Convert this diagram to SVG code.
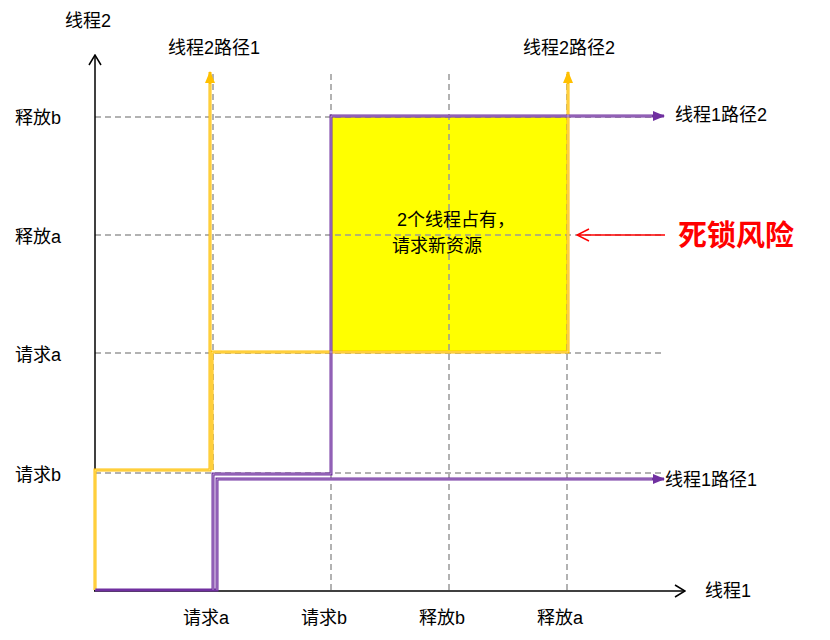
<svg xmlns="http://www.w3.org/2000/svg" width="830" height="640" viewBox="0 0 830 640">
<style>
text{font-family:"Liberation Sans","Noto Sans CJK SC",sans-serif;font-size:18px;fill:#000}
.g{stroke:#999;stroke-width:1.5;stroke-dasharray:6 4;fill:none}
.o{stroke:#FFC000;stroke-width:3;fill:none}
.p{stroke:#7030A0;stroke-width:3;fill:none}
.w{stroke:#fff;stroke-width:0.8;fill:none;opacity:0.6}
</style>
<defs>
<marker id="ao" markerWidth="12" markerHeight="12" refX="11" refY="5" orient="auto" markerUnits="userSpaceOnUse" viewBox="0 0 12 10"><path d="M0,0 L12,5 L0,10Z" fill="#FFC000"/></marker>
<marker id="ap" markerWidth="12" markerHeight="10" refX="11" refY="5" orient="auto" markerUnits="userSpaceOnUse" viewBox="0 0 12 10"><path d="M0,0 L12,5 L0,10Z" fill="#7030A0"/></marker>
<marker id="ak" markerWidth="12" markerHeight="14" refX="11" refY="7" orient="auto" markerUnits="userSpaceOnUse" viewBox="0 0 12 14"><path d="M1,1 L11,7 L1,13" fill="none" stroke="#000" stroke-width="1.5"/></marker>
<marker id="ar" markerWidth="14" markerHeight="14" refX="13" refY="7" orient="auto" markerUnits="userSpaceOnUse" viewBox="0 0 14 14"><path d="M1,1 L13,7 L1,13" fill="none" stroke="#f00" stroke-width="1.5"/></marker>
</defs>
<rect id="zone" x="331" y="116" width="236" height="236" fill="#FFFF00"/>
<g id="grid">
<path class="g" d="M213,590V70M331,590V70M449,590V70M567,590V70M95,473H665M95,353H665M95,235H665M95,117H665"/>
</g>
<g id="axes">
<path d="M95,591V55" stroke="#000" stroke-width="1.5" fill="none" marker-end="url(#ak)"/>
<path d="M94,591H685" stroke="#000" stroke-width="1.5" fill="none" marker-end="url(#ak)"/>
</g>
<g id="connectors">
<path class="o" d="M95,590V470H210V72" marker-end="url(#ao)"/>
<path class="o" d="M212,470V352H568V72" marker-end="url(#ao)"/>
<path class="p" d="M95,590H217V479H664" marker-end="url(#ap)"/>
<path class="p" d="M213,590V474H331V116H664" marker-end="url(#ap)"/>
<path class="w" d="M95,590V470H210V84M212,470V352H568V84M217,590V479H652M213,590V474H331V116H652"/>
<path d="M665,235H577" stroke="#f00" stroke-width="1.5" fill="none" marker-end="url(#ar)"/>
</g>
<g id="labels">
<text x="65" y="27">线程2</text>
<text x="705" y="597">线程1</text>
<text x="15" y="124">释放b</text>
<text x="15" y="243">释放a</text>
<text x="15" y="361">请求a</text>
<text x="15" y="481">请求b</text>
<text x="183" y="624">请求a</text>
<text x="301" y="624">请求b</text>
<text x="419" y="624">释放b</text>
<text x="537" y="624">释放a</text>
<text x="168" y="54">线程2路径1</text>
<text x="523" y="54">线程2路径2</text>
<text x="675" y="121">线程1路径2</text>
<text x="665" y="486">线程1路径1</text>
<text x="397" y="226">2个线程占有，</text>
<text x="392" y="252">请求新资源</text>
<text x="678" y="246" style="font-size:29px;fill:#f00;font-weight:bold;font-family:'Noto Sans CJK SC',sans-serif">死锁风险</text>
</g>
</svg>
